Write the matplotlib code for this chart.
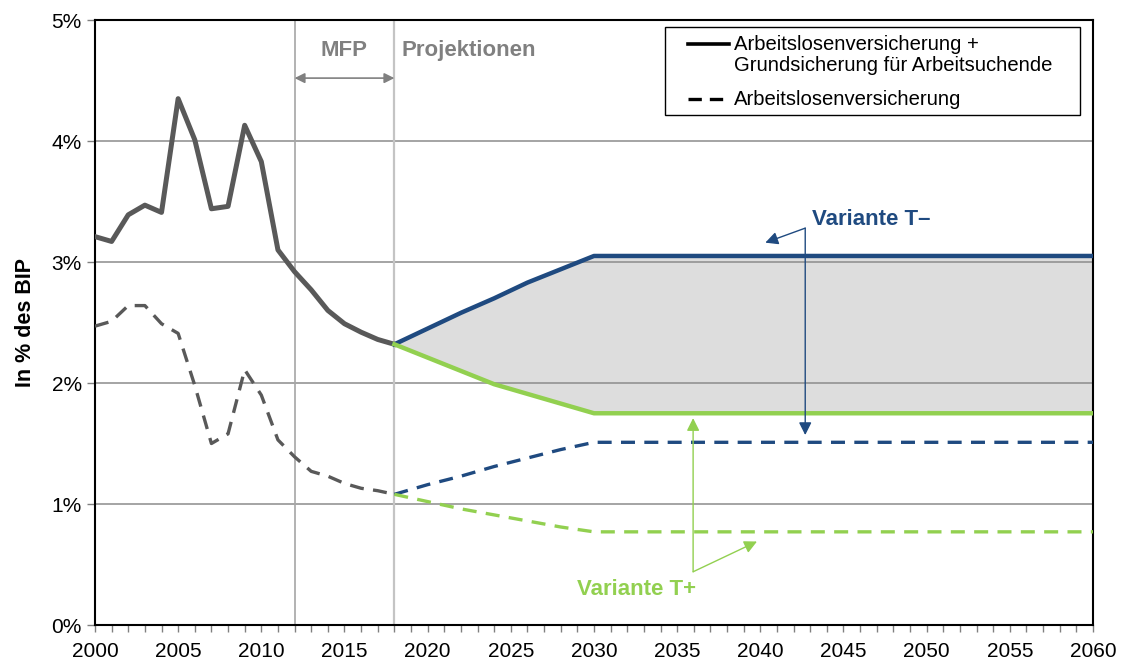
import numpy as np
import matplotlib.pyplot as plt
from matplotlib.patches import Rectangle

plt.rcParams['font.family'] = ['Liberation Sans', 'DejaVu Sans']

# historische Werte (in % des BIP)
years_hist = np.arange(2000, 2019)
total_hist = [3.21, 3.17, 3.39, 3.47, 3.41, 4.35, 4.01, 3.44, 3.46, 4.13,
              3.83, 3.10, 2.92, 2.77, 2.60, 2.49, 2.42, 2.36, 2.32]
alv_hist = [2.47, 2.51, 2.64, 2.64, 2.49, 2.41, 1.98, 1.50, 1.58, 2.11,
            1.90, 1.53, 1.39, 1.27, 1.23, 1.17, 1.13, 1.11, 1.08]

# Projektionen
years_proj = [2018, 2020, 2022, 2024, 2026, 2028, 2030, 2060]
total_tminus = [2.32, 2.45, 2.58, 2.70, 2.83, 2.94, 3.05, 3.05]
total_tplus = [2.32, 2.21, 2.10, 1.99, 1.91, 1.83, 1.75, 1.75]
alv_tminus = [1.08, 1.16, 1.23, 1.31, 1.38, 1.45, 1.51, 1.51]
alv_tplus = [1.08, 1.02, 0.96, 0.91, 0.86, 0.81, 0.77, 0.77]

legend_labels = ['Arbeitslosenversicherung +', 'Grundsicherung f\u00fcr Arbeitsuchende',
                 'Arbeitslosenversicherung']

grey = '#595959'
blue = '#1f4a80'
green = '#92d050'
dash = (4.2, 2.8)

fig = plt.figure(figsize=(11.24, 6.63), dpi=100)
ax = fig.add_axes([0.0845, 0.0573, 0.8879, 0.9125])

ax.fill_between(years_proj, total_tplus, total_tminus, color='#dddddd', lw=0, zorder=1)
for y in [1, 2, 3, 4]:
    ax.axhline(y, color='#8c8c8c', lw=1.1, zorder=2)
ax.axvline(2012, color='#a6a6a6', lw=1.2, zorder=2)
ax.axvline(2018, color='#c4c4c4', lw=1.6, zorder=2)

ax.plot(years_hist, total_hist, color=grey, lw=3.6, zorder=4)
ax.plot(years_hist, alv_hist, color=grey, lw=2.4, dashes=dash, zorder=4)
ax.plot(years_proj, total_tminus, color=blue, lw=3.2, zorder=4)
ax.plot(years_proj, total_tplus, color=green, lw=3.2, zorder=5)
ax.plot(years_proj, alv_tminus, color=blue, lw=2.4, dashes=dash, zorder=4)
ax.plot(years_proj, alv_tplus, color=green, lw=2.4, dashes=dash, zorder=5)

ax.set_xlim(2000, 2060)
ax.set_ylim(0, 5)
ax.set_xticks(range(2000, 2061, 5))
ax.set_xticks(range(2000, 2061, 1), minor=True)
ax.set_yticks(range(0, 6))
ax.set_yticklabels([f'{v}%' for v in range(0, 6)], fontsize=15)
ax.set_xticklabels([str(v) for v in range(2000, 2061, 5)], fontsize=15)
ax.tick_params(axis='both', which='both', direction='out', length=6, width=1, color='#808080')
ax.tick_params(axis='x', which='both', length=5, pad=7)
for s in ax.spines.values():
    s.set_linewidth(1.5)
    s.set_color('black')
ax.set_ylabel('In % des BIP', fontsize=15.5, fontweight='bold', labelpad=11)

# MFP / Projektionen
ax.text(2015, 4.75, 'MFP', color='#808080', fontsize=16, fontweight='bold', ha='center', va='center')
ax.text(2018.4, 4.75, 'Projektionen', color='#808080', fontsize=16, fontweight='bold', ha='left', va='center')
ax.annotate('', xy=(2012, 4.52), xytext=(2018, 4.52),
            arrowprops=dict(arrowstyle='<|-|>', color='#808080', lw=1.2, mutation_scale=15,
                            shrinkA=0, shrinkB=0))

# Varianten
ax.text(2043.1, 3.35, 'Variante T\u2013', color=blue, fontsize=16, fontweight='bold', ha='left', va='center')
for tip in [(2040.3, 3.16), (2042.7, 1.57)]:
    ax.annotate('', xy=tip, xytext=(2042.7, 3.28),
                arrowprops=dict(arrowstyle='-|>', color=blue, lw=1, mutation_scale=19,
                                shrinkA=0, shrinkB=0), zorder=6)
ax.text(2029.0, 0.29, 'Variante T+', color=green, fontsize=16, fontweight='bold', ha='left', va='center')
for tip in [(2035.96, 1.71), (2039.8, 0.69)]:
    ax.annotate('', xy=tip, xytext=(2035.96, 0.44),
                arrowprops=dict(arrowstyle='-|>', color=green, lw=1, mutation_scale=19,
                                shrinkA=0, shrinkB=0), zorder=6)

# Legende von Hand (Position wie im Original)
tr = ax.transAxes
ax.add_patch(Rectangle((0.5711, 0.8430), 0.4159, 0.1454, transform=tr, facecolor='white',
                       edgecolor='black', lw=1, zorder=10))
ax.plot([0.5942, 0.6353], [0.9603, 0.9603], transform=tr, color='black', lw=2.6, zorder=11)
ax.plot([0.5942, 0.6323], [0.8694, 0.8694], transform=tr, color='black', lw=2.4,
        dashes=(4, 2.4), zorder=11)
for lab, y in zip(legend_labels, [0.9603, 0.9256, 0.8694]):
    ax.text(0.6403, y, lab, transform=tr, fontsize=14.6, ha='left', va='center', zorder=11)

fig.savefig('out.png', dpi=100)
